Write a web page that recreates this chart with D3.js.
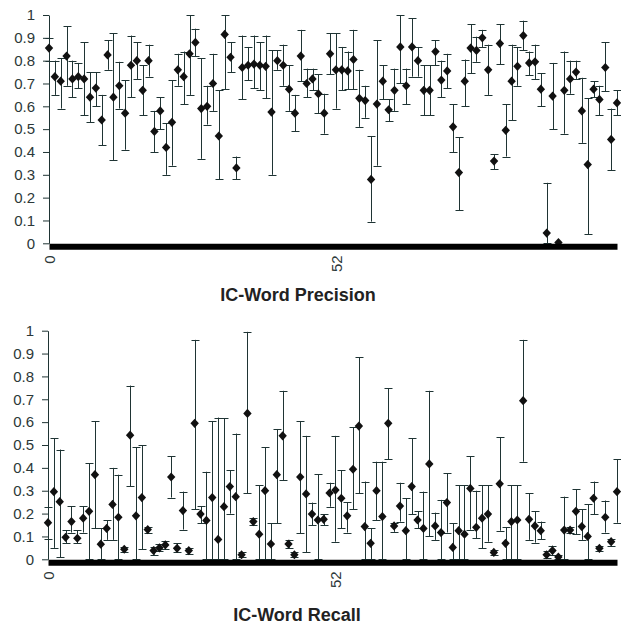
<!DOCTYPE html>
<html>
<head>
<meta charset="utf-8">
<script src="https://cdn.jsdelivr.net/npm/d3@7"></script>
<style>
  body { margin: 0; background: #fff; }
  svg { display: block; font-family: "Liberation Sans", Arial, sans-serif; }
</style>
</head>
<body>
<div id="chart"></div>
<script>
// precision per item (mean, low, high)
const precisionValues = [0.855,0.73,0.71,0.82,0.72,0.73,0.72,0.64,0.68,0.54,0.825,0.64,0.69,0.57,0.78,0.80,0.67,0.80,0.49,0.58,
  0.42,0.53,0.76,0.73,0.83,0.88,0.59,0.60,0.70,0.47,0.915,0.815,0.33,0.77,0.78,0.785,0.78,0.775,0.575,0.80,
  0.78,0.675,0.57,0.82,0.70,0.72,0.655,0.57,0.83,0.76,0.76,0.755,0.805,0.635,0.625,0.28,0.61,0.71,0.585,0.67,
  0.86,0.69,0.86,0.80,0.67,0.67,0.84,0.715,0.755,0.51,0.31,0.71,0.855,0.845,0.90,0.76,0.36,0.875,0.495,0.71,
  0.775,0.91,0.79,0.795,0.675,0.045,0.645,0.003,0.67,0.72,0.75,0.58,0.345,0.675,0.63,0.77,0.455,0.615]
const precisionLow = [0.80,0.65,0.59,0.69,0.64,0.68,0.56,0.53,0.60,0.43,0.76,0.365,0.59,0.41,0.64,0.72,0.56,0.73,0.40,0.50,
  0.30,0.34,0.69,0.61,0.65,0.82,0.37,0.52,0.58,0.28,0.675,0.75,0.28,0.63,0.715,0.68,0.67,0.635,0.30,0.76,
  0.69,0.58,0.49,0.71,0.64,0.67,0.57,0.48,0.74,0.59,0.67,0.675,0.675,0.51,0.55,0.095,0.34,0.63,0.535,0.58,
  0.70,0.61,0.73,0.73,0.56,0.56,0.78,0.64,0.68,0.40,0.145,0.60,0.745,0.795,0.86,0.65,0.325,0.785,0.38,0.54,
  0.69,0.845,0.735,0.72,0.60,0,0.50,0,0.48,0.655,0.72,0.44,0.04,0.64,0.56,0.665,0.32,0.56]
const precisionHigh = [0.90,0.80,0.81,0.95,0.80,0.79,0.88,0.75,0.75,0.65,0.89,0.92,0.795,0.715,0.91,0.88,0.78,0.87,0.58,0.64,
  0.525,0.715,0.83,0.84,1.0,0.94,0.81,0.69,0.83,0.67,1.0,0.88,0.38,0.91,0.86,0.91,0.88,0.91,0.845,0.845,
  0.87,0.78,0.65,0.935,0.765,0.765,0.74,0.655,0.92,0.92,0.86,0.84,0.935,0.76,0.69,0.47,0.89,0.78,0.63,0.765,
  1.0,0.765,0.985,0.86,0.78,0.78,0.89,0.80,0.83,0.61,0.465,0.805,0.96,0.905,0.935,0.87,0.39,0.96,0.61,0.87,
  0.86,0.975,0.84,0.87,0.745,0.265,0.79,0,0.84,0.80,0.80,0.725,0.635,0.71,0.69,0.88,0.59,0.67]

// recall per item (mean, low, high)
const recallValues = [0.16,0.296,0.252,0.096,0.165,0.092,0.18,0.21,0.37,0.066,0.135,0.24,0.184,0.044,0.543,0.19,0.27,0.13,0.038,0.05,
  0.063,0.36,0.048,0.213,0.038,0.595,0.198,0.17,0.27,0.087,0.23,0.318,0.274,0.02,0.638,0.165,0.11,0.30,0.067,0.37,
  0.54,0.067,0.02,0.36,0.286,0.198,0.172,0.175,0.29,0.303,0.267,0.19,0.394,0.583,0.143,0.07,0.30,0.187,0.595,0.146,
  0.233,0.125,0.318,0.172,0.135,0.417,0.146,0.117,0.248,0.052,0.125,0.11,0.31,0.14,0.18,0.198,0.03,0.33,0.07,0.165,
  0.172,0.694,0.175,0.146,0.125,0.02,0.038,0.01,0.128,0.128,0.21,0.143,0.10,0.267,0.048,0.184,0.077,0.296]
const recallLow = [0.09,0.05,0.01,0.07,0.117,0.07,0.117,0,0.135,0,0.085,0.085,0,0.03,0.32,0,0.044,0.117,0.02,0.035,
  0.045,0.27,0.03,0.13,0.025,0.22,0.157,0,0,0,0,0.20,0,0.01,0.29,0.15,0,0,0,0.157,
  0.347,0.05,0.01,0.114,0.03,0.15,0,0.15,0.23,0.077,0.135,0.117,0.22,0.29,0,0,0.172,0,0.437,0.12,
  0.165,0,0.198,0.135,0,0.10,0.085,0,0.117,0,0,0,0.13,0.092,0.048,0.077,0.02,0.125,0,0,
  0,0.427,0.085,0.073,0.087,0.005,0.02,0,0,0.115,0.11,0.085,0,0.198,0.035,0.117,0.06,0.16]
const recallHigh = [0.23,0.53,0.48,0.128,0.233,0.128,0.233,0.42,0.605,0.135,0.17,0.40,0.37,0.055,0.76,0.49,0.50,0.143,0.055,0.065,
  0.08,0.45,0.07,0.296,0.05,0.96,0.233,0.383,0.605,0.62,0.617,0.39,0.55,0.03,0.995,0.18,0.325,0.49,0.157,0.57,
  0.737,0.085,0.03,0.605,0.54,0.248,0.373,0.198,0.335,0.54,0.39,0.25,0.577,0.883,0.34,0.135,0.427,0.427,0.748,0.16,
  0.335,0.267,0.53,0.21,0.296,0.737,0.204,0.26,0.376,0.157,0.325,0.325,0.45,0.30,0.325,0.325,0.04,0.533,0.14,0.325,
  0.325,0.96,0.29,0.21,0.165,0.035,0.06,0.02,0.274,0.14,0.306,0.22,0.24,0.34,0.06,0.257,0.09,0.437]

const yTicks = [0, 0.1, 0.2, 0.3, 0.4, 0.5, 0.6, 0.7, 0.8, 0.9, 1]
const xTickIndex = [0, 49]
const xTickLabels = ["0", "52"]

const width = 621
const height = 624
const ink = "#1f3434"

const svg = d3.select("#chart").append("svg")
  .attr("width", width)
  .attr("height", height)

svg.append("rect").attr("width", width).attr("height", height).attr("fill", "#fff")

function drawPanel(p) {
  const n = p.values.length
  const x = d3.scaleLinear().domain([0, n - 1]).range([p.left, p.right])
  const y = d3.scaleLinear().domain([0, 1]).range([p.zero, p.one])
  const g = svg.append("g")

  // y axis
  g.append("g")
    .attr("transform", `translate(${p.left}, 0)`)
    .call(d3.axisLeft(y)
      .tickValues(yTicks)
      .tickFormat(d3.format("~g"))
      .tickSize(6)
      .tickSizeOuter(0)
      .tickPadding(8))
    .call(g => g.selectAll("path, line").attr("stroke", ink))
    .call(g => g.selectAll("text")
      .attr("fill", "#2c3838")
      .attr("font-size", 15)
      .attr("font-family", null))

  const items = d3.range(n).map(i => ({i, v: p.values[i], lo: p.low[i], hi: p.high[i]}))

  // error bars
  const bars = g.append("g").attr("stroke", ink).attr("stroke-width", 1)
  items.filter(d => d.hi > d.lo).forEach(d => {
    const cx = Math.round(x(d.i)) + 0.5
    bars.append("line")
      .attr("x1", cx).attr("x2", cx)
      .attr("y1", y(d.lo)).attr("y2", y(d.hi))
    for (const v of [d.lo, d.hi]) {
      bars.append("line")
        .attr("x1", cx - 4).attr("x2", cx + 4)
        .attr("y1", Math.round(y(v)) + 0.5).attr("y2", Math.round(y(v)) + 0.5)
    }
  })

  // diamonds
  g.append("g").selectAll("path")
    .data(items)
    .join("path")
    .attr("transform", d => `translate(${x(d.i)}, ${y(d.v)})`)
    .attr("d", "M0,-4.6L4.2,0L0,4.6L-4.2,0Z")
    .attr("fill", "#111")

  // thick category axis
  const xAxis = g.append("g")
    .attr("transform", `translate(0, ${y(0) + 3})`)
    .call(d3.axisBottom(x)
      .tickValues(xTickIndex)
      .tickFormat((d, k) => xTickLabels[k])
      .tickSize(0)
      .tickSizeOuter(0))
  xAxis.select(".domain").attr("stroke", "#000").attr("stroke-width", 6)
  xAxis.selectAll("text")
    .attr("transform", "rotate(-90)")
    .attr("text-anchor", "end")
    .attr("x", -9)
    .attr("y", 0)
    .attr("dy", "0.35em")
    .attr("fill", "#2c3838")
    .attr("font-size", 15)
    .attr("font-family", null)

  g.append("text")
    .attr("x", p.titleX)
    .attr("y", p.titleY)
    .attr("text-anchor", "middle")
    .attr("font-size", 18)
    .attr("font-weight", "bold")
    .attr("fill", "#222")
    .text(p.title)
}

drawPanel({
  values: precisionValues, low: precisionLow, high: precisionHigh,
  left: 49, right: 617, one: 15, zero: 243.3,
  title: "IC-Word Precision", titleX: 298, titleY: 301
})

drawPanel({
  values: recallValues, low: recallLow, high: recallHigh,
  left: 48, right: 617, one: 330.7, zero: 559.3,
  title: "IC-Word Recall", titleX: 297, titleY: 621
})
</script>
</body>
</html>
